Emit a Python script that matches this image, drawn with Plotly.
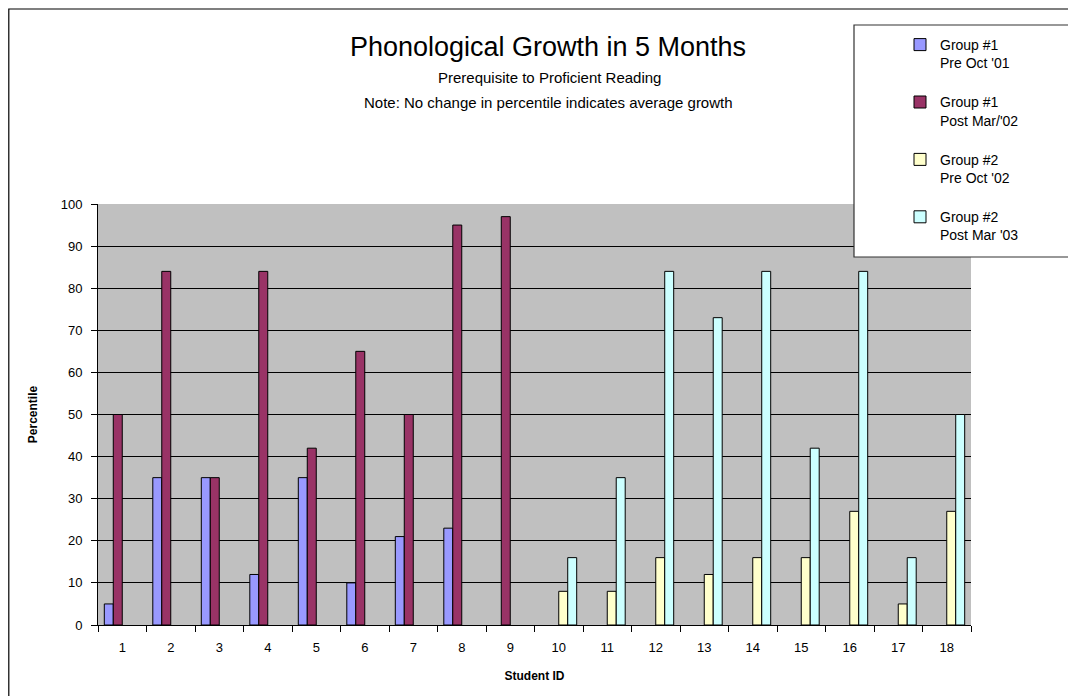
import plotly.graph_objects as go

students = [str(i) for i in range(1, 19)]
g1_pre = [5, 35, 35, 12, 35, 10, 21, 23, None, None, None, None, None, None, None, None, None, None]
g1_post = [50, 84, 35, 84, 42, 65, 50, 95, 97, None, None, None, None, None, None, None, None, None]
g2_pre = [None, None, None, None, None, None, None, None, None, 8, 8, 16, 12, 16, 16, 27, 5, 27]
g2_post = [None, None, None, None, None, None, None, None, None, 16, 35, 84, 73, 84, 42, 84, 16, 50]
series_names = ["Group #1<br>Pre Oct '01", "Group #1<br>Post Mar/'02",
                "Group #2<br>Pre Oct '02", "Group #2<br>Post Mar '03"]
series_values = [g1_pre, g1_post, g2_pre, g2_post]
colors = ["#9999FF", "#993366", "#FFFFCC", "#CCFFFF"]
y_ticks = list(range(0, 101, 10))

FONT = "Liberation Sans, Arial, sans-serif"

# page has an 8px body margin; reference pixel coords are shifted accordingly
OFF = 8
W, H = 1076 - OFF, 696 - OFF
PLOT_L, PLOT_R, PLOT_T, PLOT_B = 98, 971, 204, 625  # reference pixel coords
L = PLOT_L - OFF
T = PLOT_T - OFF
R = W - (PLOT_R - OFF)
B = H - (PLOT_B - OFF)
PW, PH = W - L - R, H - T - B


def px(x):
    return (x - OFF - L) / PW


def py(y):
    return (H - B - (y - OFF)) / PH


fig = go.Figure()
for i, (name, vals, col) in enumerate(zip(series_names, series_values, colors)):
    fig.add_trace(go.Bar(
        x=students, y=vals, name=name,
        marker=dict(color=col, line=dict(color="black", width=1)),
        legendgroup=f"g{i}",
    ))

fig.update_layout(
    width=W, height=H,
    margin=dict(l=L, r=R, t=T, b=B),
    paper_bgcolor="white",
    plot_bgcolor="#C0C0C0",
    barmode="group",
    bargap=0.26,
    bargroupgap=0,
    font=dict(family=FONT, color="black", size=13),
    title=dict(text="Phonological Growth in 5 Months", x=px(548), xref="paper",
               xanchor="center", y=1 - (47 - OFF) / H, yref="container", yanchor="middle",
               font=dict(size=27, family=FONT, color="black")),
    showlegend=True,
    legend=dict(x=px(900), y=py(29), xanchor="left", yanchor="top",
                xref="paper", yref="paper",
                bgcolor="rgba(0,0,0,0)", borderwidth=0,
                font=dict(size=14, family=FONT, color="black"),
                tracegroupgap=18, valign="top", itemwidth=30,
                traceorder="grouped"),
)

fig.update_xaxes(
    type="category",
    showline=True, linecolor="black", linewidth=1,
    ticks="outside", ticklen=6, tickcolor="black", tickson="boundaries",
    showgrid=False,
    tickfont=dict(size=13, family=FONT),
    ticklabelstandoff=10,
    title=dict(text="<b>Student ID</b>", font=dict(size=12, family=FONT), standoff=18),
)
fig.update_yaxes(
    range=[0, 100], tickvals=y_ticks,
    showline=True, linecolor="black", linewidth=1,
    ticks="outside", ticklen=6, tickcolor="black",
    showgrid=True, gridcolor="black", gridwidth=1,
    zeroline=False,
    tickfont=dict(size=13, family=FONT),
    ticklabelstandoff=6,
    title=dict(text="<b>Percentile</b>", font=dict(size=12, family=FONT), standoff=20),
)

# subtitles
fig.add_annotation(text="Prerequisite to Proficient Reading", x=px(549), y=py(77),
                   xref="paper", yref="paper", showarrow=False, xanchor="center",
                   yanchor="middle", font=dict(size=15, family=FONT))
fig.add_annotation(text="Note: No change in percentile indicates average growth", x=px(548), y=py(102),
                   xref="paper", yref="paper", showarrow=False, xanchor="center",
                   yanchor="middle", font=dict(size=15, family=FONT))

# outer chart border
fig.add_shape(type="rect", xref="paper", yref="paper",
              x0=px(OFF + 0.8), x1=px(1100), y0=py(720), y1=py(9),
              line=dict(color="black", width=1.2), fillcolor="rgba(0,0,0,0)", layer="below")
# legend box
fig.add_shape(type="rect", xref="paper", yref="paper",
              x0=px(854), x1=px(1100), y0=py(257), y1=py(25),
              line=dict(color="#333333", width=1.2), fillcolor="white", layer="above")

fig.write_html("out.html")
